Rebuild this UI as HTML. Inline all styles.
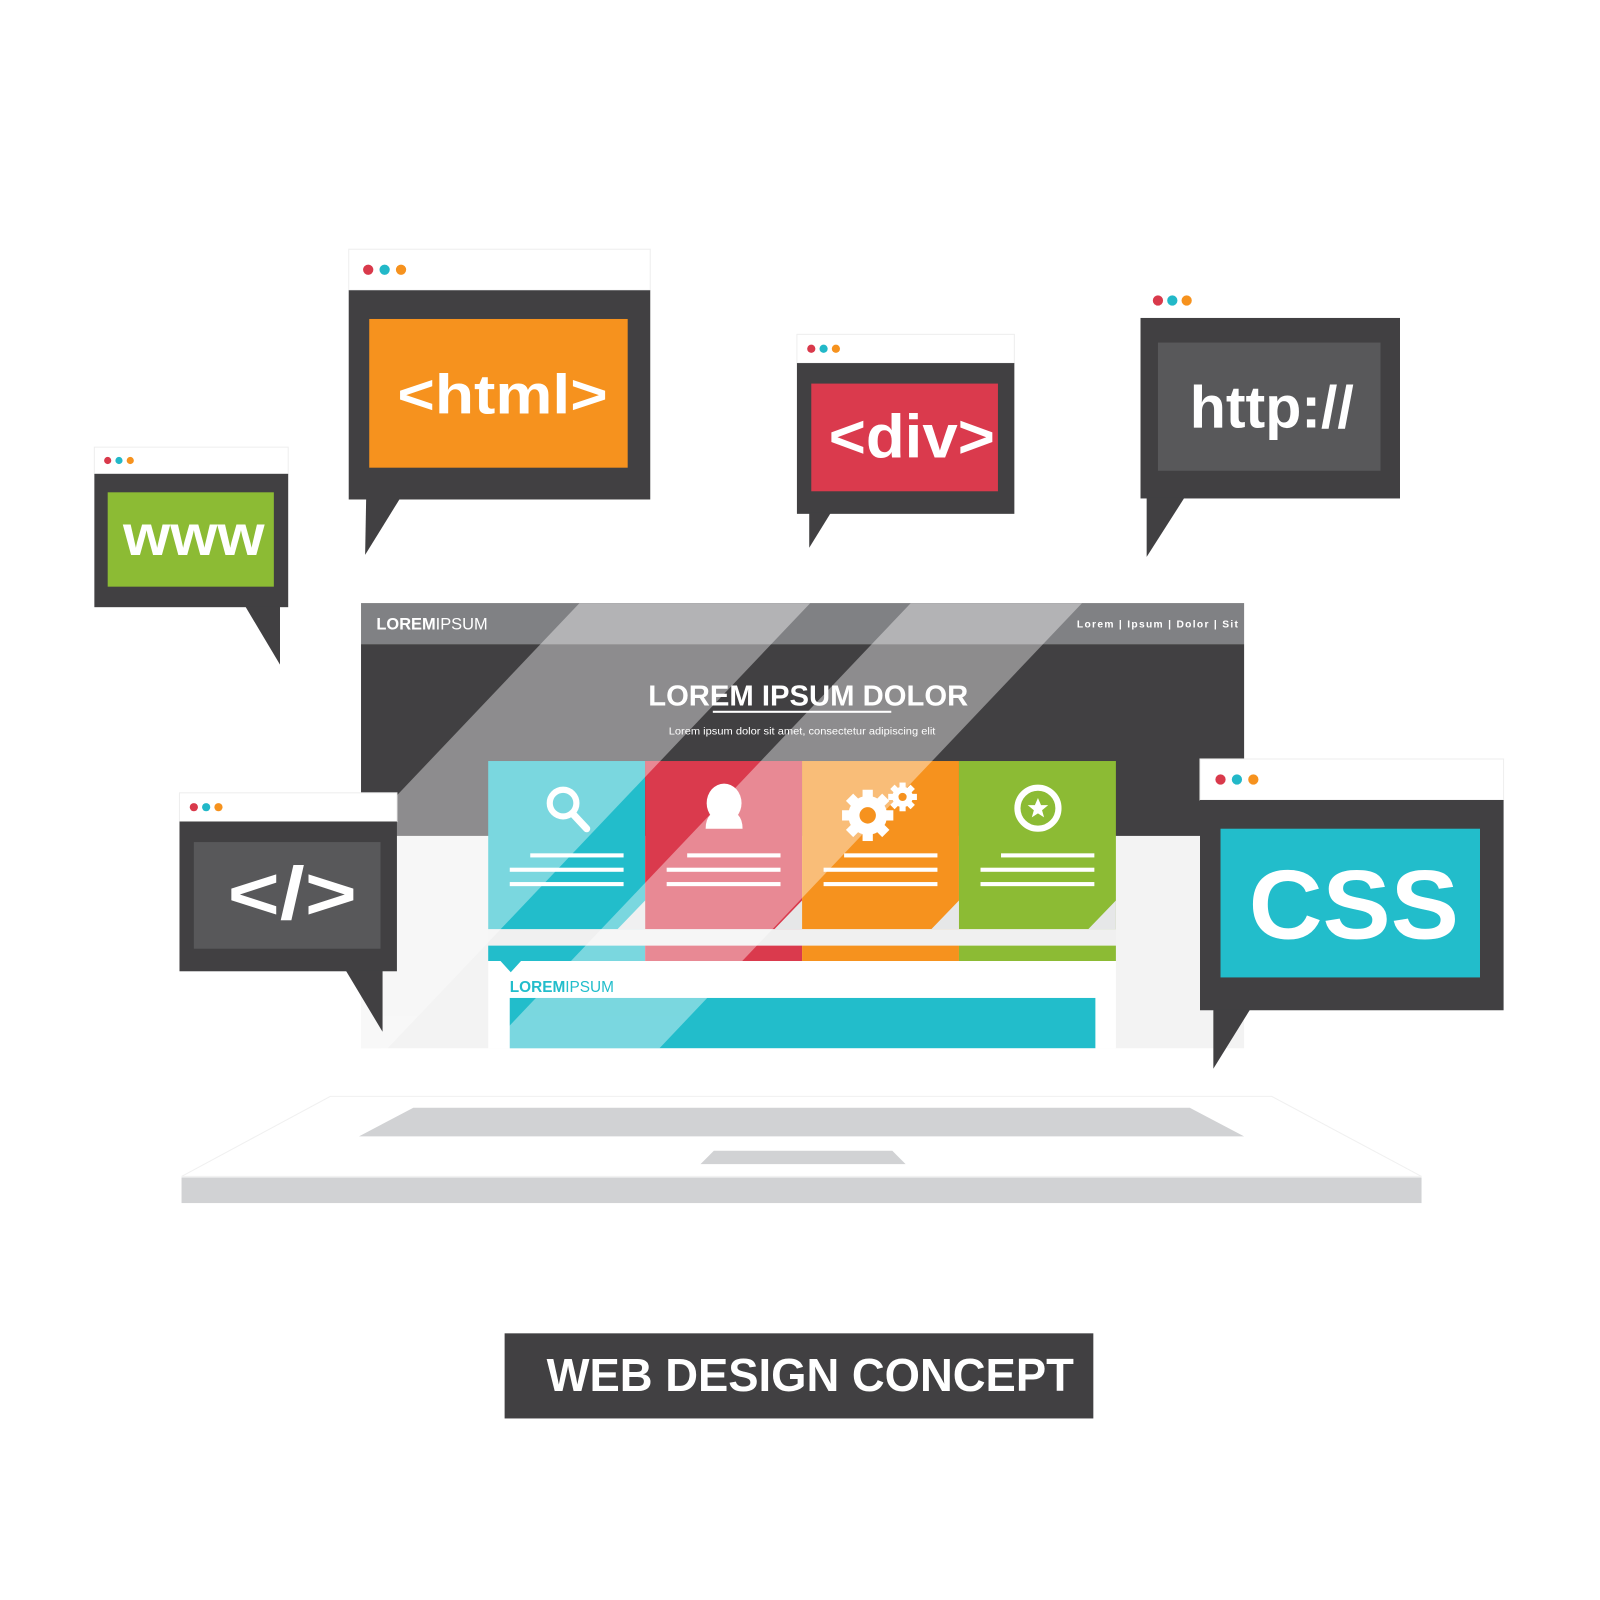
<!DOCTYPE html>
<html><head><meta charset="utf-8"><style>
html,body{margin:0;padding:0;background:#fff;}
svg{display:block;}
text{font-family:"Liberation Sans",sans-serif;font-weight:bold;}
</style></head><body>
<svg width="1600" height="1600" viewBox="0 0 1560 1560" xmlns="http://www.w3.org/2000/svg">
<defs>
<clipPath id="br"><rect x="352" y="588" width="861" height="434"/></clipPath>
</defs>
<rect width="1560" height="1560" fill="#fff"/>

<!-- laptop -->
<polygon points="177,1147 322,1069 1240,1069 1386,1147" fill="#fff" stroke="#f0f0f0" stroke-width="1"/>
<polygon points="350,1108 1213,1108 1160,1080 403,1080" fill="#d1d2d4"/>
<polygon points="683,1135 883,1135 870,1122 696,1122" fill="#d1d2d4"/>
<rect x="177" y="1148" width="1209" height="25" fill="#d1d2d4"/>

<!-- browser -->
<rect x="352" y="588" width="861" height="434" fill="#f3f3f3"/>
<rect x="352" y="628" width="861" height="187" fill="#414042"/>
<rect x="352" y="588" width="861" height="40" fill="#808184"/>

<!-- cards -->
<rect x="476" y="742" width="153" height="164" fill="#22bdcb"/>
<rect x="629" y="742" width="153" height="164" fill="#da3a4d"/>
<rect x="782" y="742" width="153" height="164" fill="#f6921e"/>
<rect x="935" y="742" width="153" height="164" fill="#8cbb34"/>
<rect x="476" y="906" width="612" height="16" fill="#f0f0f0"/>
<rect x="476" y="922" width="153" height="15" fill="#22bdcb"/>
<rect x="629" y="922" width="153" height="15" fill="#da3a4d"/>
<rect x="782" y="922" width="153" height="15" fill="#f6921e"/>
<rect x="935" y="922" width="153" height="15" fill="#8cbb34"/>
<rect x="476" y="937" width="612" height="85" fill="#fff"/>
<polygon points="488,937 508,937 498,948" fill="#22bdcb"/>
<rect x="497" y="973" width="571" height="49" fill="#22bdcb"/>

<!-- card folds -->
<g fill="#e6e7e8">
<polygon points="629,878 629,906 602,906"/>
<polygon points="782,878 782,906 755,906"/>
<polygon points="935,878 935,906 908,906"/>
<polygon points="1088,878 1088,906 1061,906"/>
</g>

<!-- stripes -->
<g clip-path="url(#br)" fill="#fff" opacity="0.4">
<polygon points="565,588 790,588 378,1022 153,1022"/>
<polygon points="888,588 1055,588 643,1022 476,1022"/>
</g>

<!-- card lines -->
<g fill="#fff">
<rect x="517" y="832" width="91" height="4"/><rect x="497" y="846" width="111" height="4"/><rect x="497" y="860" width="111" height="4"/>
<rect x="670" y="832" width="91" height="4"/><rect x="650" y="846" width="111" height="4"/><rect x="650" y="860" width="111" height="4"/>
<rect x="823" y="832" width="91" height="4"/><rect x="803" y="846" width="111" height="4"/><rect x="803" y="860" width="111" height="4"/>
<rect x="976" y="832" width="91" height="4"/><rect x="956" y="846" width="111" height="4"/><rect x="956" y="860" width="111" height="4"/>
</g>
<!-- icons -->
<circle cx="549" cy="783" r="13" fill="none" stroke="#fff" stroke-width="6"/>
<line x1="558" y1="793" x2="572" y2="808" stroke="#fff" stroke-width="7" stroke-linecap="round"/>
<ellipse cx="706" cy="783" rx="17" ry="19" fill="#fff"/>
<path d="M688,808 Q688,790 706,790 Q724,790 724,808 Z" fill="#fff"/>
<g fill="#fff">
<circle cx="846" cy="795" r="19"/>
<g transform="translate(846,795)"><rect x="-5" y="-25" width="10" height="50"/><rect x="-25" y="-5" width="50" height="10"/><rect x="-5" y="-25" width="10" height="50" transform="rotate(45)"/><rect x="-5" y="-25" width="10" height="50" transform="rotate(-45)"/></g>
<circle cx="880" cy="777" r="10"/>
<g transform="translate(880,777)"><rect x="-3" y="-14" width="6" height="28"/><rect x="-14" y="-3" width="28" height="6"/><rect x="-3" y="-14" width="6" height="28" transform="rotate(45)"/><rect x="-3" y="-14" width="6" height="28" transform="rotate(-45)"/></g>
</g>
<circle cx="846" cy="795" r="8" fill="#f6921e"/>
<circle cx="880" cy="777" r="4" fill="#f6921e"/>
<circle cx="1012" cy="788" r="20" fill="none" stroke="#fff" stroke-width="6"/>
<polygon points="1012,778 1015,785 1022,785 1016,790 1018,797 1012,793 1006,797 1008,790 1002,785 1009,785" fill="#fff"/>

<!-- browser text -->
<text x="367" y="614" font-size="16" fill="#fff">LOREM<tspan style="font-weight:normal">IPSUM</tspan></text>
<text x="1050" y="612" font-size="10" fill="#fff" textLength="157" lengthAdjust="spacing">Lorem  |  Ipsum  |  Dolor  |  Sit</text>
<text x="788" y="688" font-size="28" fill="#fff" text-anchor="middle" textLength="312" lengthAdjust="spacingAndGlyphs">LOREM IPSUM DOLOR</text>
<rect x="695" y="693" width="174" height="2" fill="#fff"/>
<text x="782" y="716" font-size="10" fill="#fff" text-anchor="middle" style="font-weight:normal" textLength="260" lengthAdjust="spacingAndGlyphs">Lorem ipsum dolor sit amet, consectetur adipiscing elit</text>
<text x="497" y="967" font-size="15" fill="#22bdcb">LOREM<tspan style="font-weight:normal">IPSUM</tspan></text>

<!-- html box -->
<rect x="340" y="243" width="294" height="40" fill="#fff" stroke="#eee"/>
<circle cx="359" cy="263" r="5" fill="#d9394b"/><circle cx="375" cy="263" r="5" fill="#22b8c8"/><circle cx="391" cy="263" r="5" fill="#f6921e"/>
<rect x="340" y="283" width="294" height="204" fill="#414042"/>
<polygon points="357,486 356,541 390,486" fill="#414042"/>
<rect x="360" y="311" width="252" height="145" fill="#f6921e"/>
<text x="490" y="403" font-size="54" fill="#fff" text-anchor="middle" textLength="205" lengthAdjust="spacingAndGlyphs">&lt;html&gt;</text>

<!-- div box -->
<rect x="777" y="326" width="212" height="28" fill="#fff" stroke="#eee"/>
<circle cx="791" cy="340" r="4" fill="#d9394b"/><circle cx="803" cy="340" r="4" fill="#22b8c8"/><circle cx="815" cy="340" r="4" fill="#f6921e"/>
<rect x="777" y="354" width="212" height="147" fill="#414042"/>
<polygon points="789,500 789,534 810,500" fill="#414042"/>
<rect x="791" y="374" width="182" height="105" fill="#da3a4d"/>
<text x="889" y="446" font-size="60" fill="#fff" text-anchor="middle" textLength="162" lengthAdjust="spacingAndGlyphs">&lt;div&gt;</text>

<!-- http box -->
<circle cx="1129" cy="293" r="5" fill="#d9394b"/><circle cx="1143" cy="293" r="5" fill="#22b8c8"/><circle cx="1157" cy="293" r="5" fill="#f6921e"/>
<rect x="1112" y="310" width="253" height="176" fill="#414042"/>
<polygon points="1118,485 1118,543 1155,485" fill="#414042"/>
<rect x="1129" y="334" width="217" height="125" fill="#58585a"/>
<text x="1240" y="417" font-size="58" fill="#fff" text-anchor="middle" textLength="160" lengthAdjust="spacingAndGlyphs">http://</text>

<!-- www box -->
<rect x="92" y="436" width="189" height="26" fill="#fff" stroke="#eee"/>
<circle cx="105" cy="449" r="3.5" fill="#d9394b"/><circle cx="116" cy="449" r="3.5" fill="#22b8c8"/><circle cx="127" cy="449" r="3.5" fill="#f6921e"/>
<rect x="92" y="462" width="189" height="130" fill="#414042"/>
<polygon points="239,591 273,648 273,591" fill="#414042"/>
<rect x="105" y="480" width="162" height="92" fill="#8cbb34"/>
<text x="189" y="541" font-size="56" fill="#fff" text-anchor="middle" textLength="138" lengthAdjust="spacingAndGlyphs">www</text>

<!-- code box -->
<rect x="175" y="773" width="212" height="28" fill="#fff" stroke="#eee"/>
<circle cx="189" cy="787" r="4" fill="#d9394b"/><circle cx="201" cy="787" r="4" fill="#22b8c8"/><circle cx="213" cy="787" r="4" fill="#f6921e"/>
<rect x="175" y="801" width="212" height="146" fill="#414042"/>
<polygon points="337,946 373,1006 373,946" fill="#414042"/>
<rect x="189" y="821" width="182" height="104" fill="#58585a"/>
<text x="285" y="896" font-size="72" fill="#fff" text-anchor="middle" textLength="126" lengthAdjust="spacingAndGlyphs">&lt;/&gt;</text>

<!-- css box -->
<rect x="1170" y="740" width="296" height="40" fill="#fff" stroke="#eee"/>
<circle cx="1190" cy="760" r="5" fill="#d9394b"/><circle cx="1206" cy="760" r="5" fill="#22b8c8"/><circle cx="1222" cy="760" r="5" fill="#f6921e"/>
<rect x="1170" y="780" width="296" height="205" fill="#414042"/>
<polygon points="1183,984 1183,1042 1219,984" fill="#414042"/>
<rect x="1190" y="808" width="253" height="145" fill="#22bdcb"/>
<text x="1320" y="915" font-size="96" fill="#fff" text-anchor="middle" textLength="205" lengthAdjust="spacingAndGlyphs">CSS</text>

<!-- title -->
<rect x="492" y="1300" width="574" height="83" fill="#414042"/>
<text x="790" y="1356" font-size="45" fill="#fff" text-anchor="middle" textLength="514" lengthAdjust="spacingAndGlyphs">WEB DESIGN CONCEPT</text>
</svg>
</body></html>
